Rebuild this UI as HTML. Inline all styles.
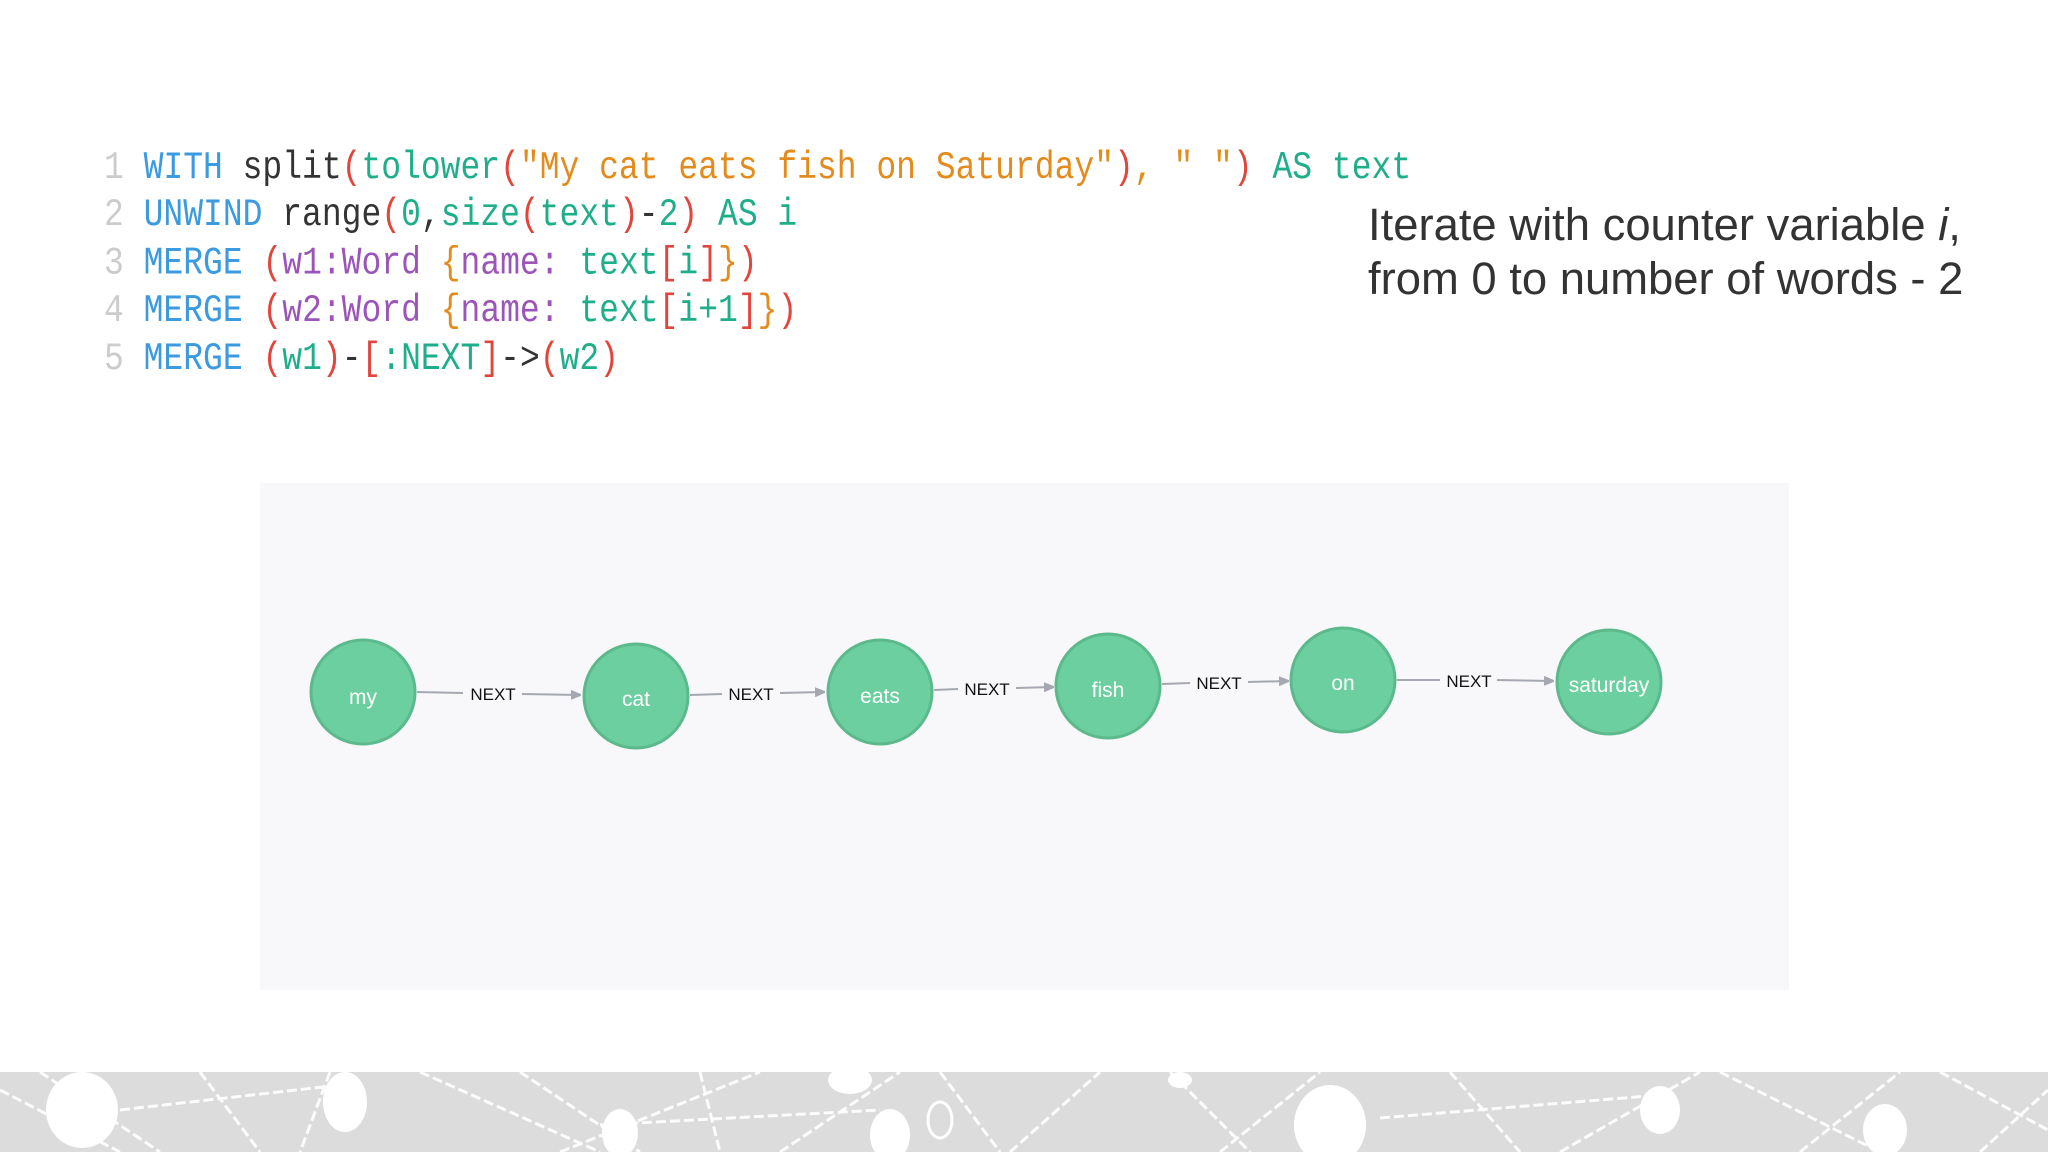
<!DOCTYPE html>
<html><head><meta charset="utf-8"><style>
html,body{margin:0;padding:0;background:#fff;}
body{width:2048px;height:1152px;position:relative;overflow:hidden;}
.code{position:absolute;left:104px;top:145px;font-family:"Liberation Mono",monospace;font-size:33px;line-height:40.4px;white-space:pre;color:#333;transform:scaleY(1.18);transform-origin:0 0;}
.ln{color:#ccc;}
.k{color:#3b9ae0}.t{color:#1fae8a}.o{color:#e38b1c}.r{color:#e2453c}.p{color:#9b55b8}
.note{position:absolute;left:1368px;top:198px;font-family:"Liberation Sans",sans-serif;font-size:45.4px;line-height:54px;color:#333;}
</style></head><body>
<div class="code"><span class="ln">1 </span><span class="k">WITH</span> split<span class="r">(</span><span class="t">tolower</span><span class="r">(</span><span class="o">"My cat eats fish on Saturday"</span><span class="r">)</span><span class="o">,</span> <span class="o">" "</span><span class="r">)</span> <span class="t">AS text</span>
<span class="ln">2 </span><span class="k">UNWIND</span> range<span class="r">(</span><span class="t">0</span>,<span class="t">size</span><span class="r">(</span><span class="t">text</span><span class="r">)</span>-<span class="t">2</span><span class="r">)</span> <span class="t">AS i</span>
<span class="ln">3 </span><span class="k">MERGE</span> <span class="r">(</span><span class="p">w1:Word</span> <span class="o">{</span><span class="p">name:</span> <span class="t">text</span><span class="r">[</span><span class="t">i</span><span class="r">]</span><span class="o">}</span><span class="r">)</span>
<span class="ln">4 </span><span class="k">MERGE</span> <span class="r">(</span><span class="p">w2:Word</span> <span class="o">{</span><span class="p">name:</span> <span class="t">text</span><span class="r">[</span><span class="t">i+1</span><span class="r">]</span><span class="o">}</span><span class="r">)</span>
<span class="ln">5 </span><span class="k">MERGE</span> <span class="r">(</span><span class="t">w1</span><span class="r">)</span>-<span class="r">[</span><span class="t">:NEXT</span><span class="r">]</span>-&gt;<span class="r">(</span><span class="t">w2</span><span class="r">)</span></div>
<div class="note">Iterate with counter variable <i>i</i>,<br>from 0 to number of words - 2</div>
<svg width="2048" height="1152" style="position:absolute;left:0;top:0" xmlns="http://www.w3.org/2000/svg">
<defs><marker id="a" markerWidth="10" markerHeight="10" refX="9" refY="5" orient="auto" markerUnits="userSpaceOnUse"><path d="M0,0 L12,5 L0,10z" fill="#a5a8b0"/></marker></defs>
<rect x="260" y="483" width="1529" height="507" fill="#f8f8fa"/>
<g stroke="#a5a8b0" stroke-width="2" fill="none">
<line x1="417" y1="692" x2="463" y2="693"/><line x1="522" y1="694" x2="580" y2="695" marker-end="url(#a)"/>
<line x1="690" y1="695" x2="722" y2="694"/><line x1="780" y1="693" x2="824" y2="692" marker-end="url(#a)"/>
<line x1="934" y1="690" x2="958" y2="689"/><line x1="1016" y1="688" x2="1053" y2="687" marker-end="url(#a)"/>
<line x1="1162" y1="684" x2="1190" y2="683"/><line x1="1248" y1="682" x2="1288" y2="681" marker-end="url(#a)"/>
<line x1="1397" y1="680" x2="1440" y2="680"/><line x1="1497" y1="680" x2="1553" y2="681" marker-end="url(#a)"/>
</g>
<g font-family="Liberation Sans,sans-serif" font-size="17" fill="#111" text-anchor="middle">
<text x="493" y="700">NEXT</text><text x="751" y="700">NEXT</text><text x="987" y="695">NEXT</text><text x="1219" y="689">NEXT</text><text x="1469" y="687">NEXT</text>
</g>
<g fill="#6ccf9f" stroke="#5cb98b" stroke-width="3">
<circle cx="363" cy="692" r="52"/><circle cx="636" cy="696" r="52"/><circle cx="880" cy="692" r="52"/><circle cx="1108" cy="686" r="52"/><circle cx="1343" cy="680" r="52"/><circle cx="1609" cy="682" r="52"/>
</g>
<g font-family="Liberation Sans,sans-serif" font-size="21" fill="#fff" text-anchor="middle">
<text x="363" y="704">my</text><text x="636" y="706">cat</text><text x="880" y="703">eats</text><text x="1108" y="697">fish</text><text x="1343" y="690">on</text><text x="1609" y="692">saturday</text>
</g>
<rect x="0" y="1072" width="2048" height="80" fill="#dcdcdc"/>
<g stroke="#fff" stroke-width="3" fill="none" stroke-dasharray="10 4" opacity="0.9">
<path d="M0,1090 L120,1152 M40,1072 L160,1152 M120,1110 L340,1085 M200,1072 L260,1152 M330,1072 L300,1152 M420,1072 L600,1152 M520,1072 L640,1152 M560,1152 L760,1072 M600,1125 L880,1110 M700,1072 L720,1152 M780,1152 L900,1072 M940,1072 L1000,1152 M1010,1152 L1100,1072 M1170,1072 L1250,1152 M1220,1152 L1320,1072 M1380,1118 L1660,1095 M1450,1072 L1520,1152 M1560,1152 L1700,1072 M1720,1072 L1880,1152 M1800,1152 L1900,1072 M1940,1072 L2048,1130 M1980,1152 L2048,1090"/>
</g>
<g fill="#fff">
<ellipse cx="82" cy="1110" rx="36" ry="38"/><ellipse cx="345" cy="1102" rx="22" ry="30"/><ellipse cx="620" cy="1133" rx="18" ry="24"/><ellipse cx="850" cy="1080" rx="22" ry="14"/><ellipse cx="890" cy="1135" rx="20" ry="26"/><ellipse cx="940" cy="1120" rx="12" ry="18" fill="none" stroke="#fff" stroke-width="3"/><ellipse cx="1330" cy="1125" rx="36" ry="40"/><ellipse cx="1660" cy="1110" rx="20" ry="24"/><ellipse cx="1885" cy="1130" rx="22" ry="26"/><ellipse cx="1180" cy="1080" rx="12" ry="8"/>
</g>
</svg>
</body></html>
